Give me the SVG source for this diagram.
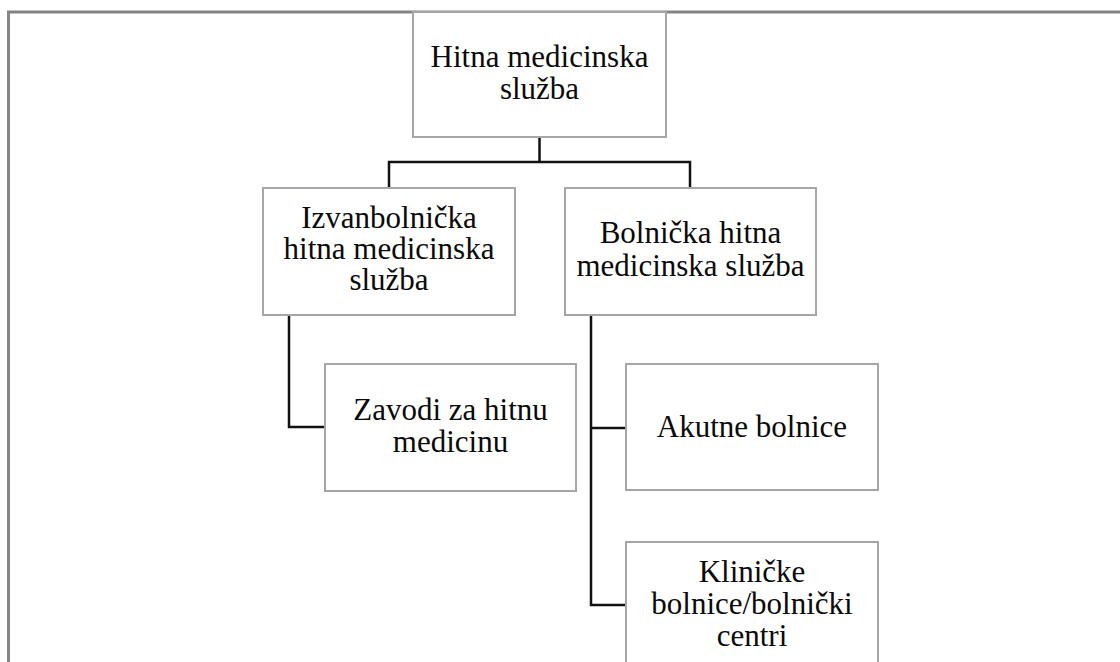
<svg xmlns="http://www.w3.org/2000/svg" width="1120" height="662" viewBox="0 0 1120 662">
<style>
.box{fill:#fff;stroke:#a6a6a6;stroke-width:2}
.t{font-family:'Liberation Serif','Times New Roman',Tinos,'DejaVu Serif',serif;font-size:31px;fill:#0a0a0a;text-anchor:middle}
.c{fill:none;stroke:#111;stroke-width:2.5}
.frame{fill:none;stroke:#848484;stroke-width:3}
</style>
<rect x="0" y="0" width="1120" height="662" fill="#fff"/>
<path class="frame" d="M8.5 662 V12 H1120"/>
<g id="connectors">
<path class="c" d="M539.5 137 V162 M389 188 V162 H690 V188"/>
<path class="c" d="M289 315 V427 H325"/>
<path class="c" d="M591 315 V605 H626 M591 428 H626"/>
</g>
<g id="n-hitna">
<rect class="box" x="413" y="12" width="253" height="125"/>
<text class="t" x="539.5" y="67">Hitna medicinska</text>
<text class="t" x="539.5" y="99">služba</text>
</g>
<g id="n-izvanbolnicka">
<rect class="box" x="263" y="188" width="252" height="127"/>
<text class="t" x="389" y="228">Izvanbolnička</text>
<text class="t" x="389" y="259">hitna medicinska</text>
<text class="t" x="389" y="290">služba</text>
</g>
<g id="n-bolnicka">
<rect class="box" x="565" y="188" width="251" height="127"/>
<text class="t" x="690.5" y="243">Bolnička hitna</text>
<text class="t" x="690.5" y="276">medicinska služba</text>
</g>
<g id="n-zavodi">
<rect class="box" x="325" y="364" width="251" height="127"/>
<text class="t" x="450.5" y="420">Zavodi za hitnu</text>
<text class="t" x="450.5" y="452">medicinu</text>
</g>
<g id="n-akutne">
<rect class="box" x="626" y="364" width="252" height="126"/>
<text class="t" x="752" y="437">Akutne bolnice</text>
</g>
<g id="n-klinicke">
<rect class="box" x="626" y="542" width="252" height="140"/>
<text class="t" x="752" y="582">Kliničke</text>
<text class="t" x="752" y="614">bolnice/bolnički</text>
<text class="t" x="752" y="646">centri</text>
</g>
</svg>
